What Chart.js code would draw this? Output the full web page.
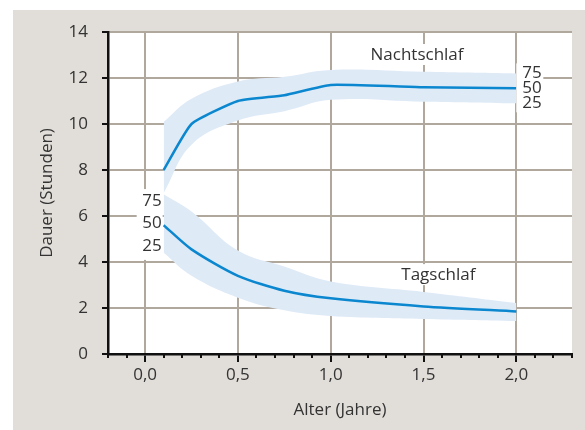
<!DOCTYPE html>
<html>
<head>
<meta charset="utf-8">
<script src="https://cdn.jsdelivr.net/npm/chart.js@4.4.0/dist/chart.umd.min.js"></script>
<style>
  html, body { margin: 0; padding: 0; background: #fff; }
</style>
</head>
<body>
<canvas id="sleep-chart" width="585" height="430"></canvas>
<script>
// Alter (Jahre)
var ages = [0.1, 0.25, 0.5, 0.75, 1.0, 1.5, 2.0];

// Nachtschlaf (Stunden) - Perzentilen
var night75 = [10.1, 11.1, 11.85, 12.05, 12.35, 12.27, 12.2];
var night50 = [8.0, 10.0, 11.0, 11.25, 11.7, 11.6, 11.55];
var night25 = [7.0, 9.1, 10.15, 10.55, 11.05, 10.97, 10.9];

// Tagschlaf (Stunden) - Perzentilen
var day75 = [6.95, 6.2, 4.5, 3.8, 3.15, 2.7, 2.22];
var day50 = [5.6, 4.55, 3.4, 2.75, 2.42, 2.07, 1.85];
var day25 = [4.4, 3.4, 2.45, 1.9, 1.65, 1.52, 1.43];

// tick labels
var xTickValues = [0, 0.5, 1.0, 1.5, 2.0];
var xTickLabels = ['0,0', '0,5', '1,0', '1,5', '2,0'];
var percentileLabels = ['75', '50', '25'];

var lineBlue = '#0b87cf';
var bandBlue = '#dfeaf7';
var gridTan = '#b0a89d';
var textColor = '#333333';
var fontFamily = "'Open Sans', sans-serif";

function pts(ys) {
    return ages.map(function (a, i) { return { x: a, y: ys[i] }; });
}

function isHalf(v) {
    return Math.abs(v * 2 - Math.round(v * 2)) < 1e-6;
}

Chart.defaults.font.family = fontFamily;
Chart.defaults.color = textColor;

// background + plot area
var backgroundPlugin = {
    id: 'background',
    beforeDraw: function (chart) {
        var c = chart.ctx, a = chart.chartArea;
        c.save();
        c.fillStyle = '#ffffff';
        c.fillRect(0, 0, chart.width, chart.height);
        c.fillStyle = '#e1ddd8';
        c.fillRect(13, 10, chart.width - 13, chart.height - 10);
        c.fillStyle = '#ffffff';
        c.fillRect(a.left, a.top, a.right - a.left, a.bottom - a.top);
        c.restore();
    }
};

// minor ticks on x axis and text labels in the plot
var labelsPlugin = {
    id: 'sleepLabels',
    afterDraw: function (chart) {
        var c = chart.ctx;
        var xs = chart.scales.x, ys = chart.scales.y;
        c.save();

        // minor ticks every 0.1
        c.strokeStyle = '#111';
        c.lineWidth = 2;
        for (var k = -2; k <= 23; k++) {
            var v = k / 10;
            if (isHalf(v)) continue;
            var px = Math.round(xs.getPixelForValue(v));
            c.beginPath();
            c.moveTo(px, ys.bottom);
            c.lineTo(px, ys.bottom + 4);
            c.stroke();
        }

        c.font = '17px ' + fontFamily;
        c.textBaseline = 'middle';

        // Nachtschlaf / Tagschlaf
        function title(text, xv, yv) {
            var x = xs.getPixelForValue(xv), y = ys.getPixelForValue(yv);
            var w = c.measureText(text).width;
            c.fillStyle = '#fff';
            c.fillRect(x - w / 2 - 3, y - 11, w + 6, 21);
            c.fillStyle = textColor;
            c.textAlign = 'center';
            c.fillText(text, x, y);
        }
        title('Nachtschlaf', 1.465, 13.0);
        title('Tagschlaf', 1.58, 3.43);

        // percentiles right of Nachtschlaf
        var last = ages.length - 1;
        var rx = xs.getPixelForValue(ages[last]);
        var rys = [night75[last], night50[last], night25[last]].map(function (v) { return ys.getPixelForValue(v); });
        c.fillStyle = '#fff';
        c.fillRect(rx, rys[0] - 10, 27, rys[2] - rys[0] + 19);
        c.fillStyle = textColor;
        c.textAlign = 'left';
        percentileLabels.forEach(function (t, i) { c.fillText(t, rx + 6, rys[i]); });

        // percentiles left of Tagschlaf
        var lx = xs.getPixelForValue(ages[0]);
        var lys = [6.65, 5.7, 4.7].map(function (v) { return ys.getPixelForValue(v); });
        c.fillStyle = '#fff';
        c.fillRect(lx - 27, lys[0] - 12, 26, lys[2] - lys[0] + 26);
        c.fillStyle = textColor;
        c.textAlign = 'right';
        percentileLabels.forEach(function (t, i) { c.fillText(t, lx - 2, lys[i]); });

        c.restore();
    }
};

var ctx = document.getElementById('sleep-chart');

var chartData = {
    datasets: [
        { label: 'Nachtschlaf 50', data: pts(night50), borderColor: lineBlue, borderWidth: 2.5, tension: 0.15, fill: false, pointRadius: 0, order: 1 },
        { label: 'Tagschlaf 50', data: pts(day50), borderColor: lineBlue, borderWidth: 2.5, tension: 0.25, fill: false, pointRadius: 0, order: 1 },
        { label: 'Nachtschlaf 75', data: pts(night75), borderWidth: 0, borderColor: bandBlue, backgroundColor: bandBlue, tension: 0.4, fill: '+1', pointRadius: 0, order: 2 },
        { label: 'Nachtschlaf 25', data: pts(night25), borderWidth: 0, borderColor: bandBlue, tension: 0.4, fill: false, pointRadius: 0, order: 2 },
        { label: 'Tagschlaf 75', data: pts(day75), borderWidth: 0, borderColor: bandBlue, backgroundColor: bandBlue, tension: 0.4, fill: '+1', pointRadius: 0, order: 2 },
        { label: 'Tagschlaf 25', data: pts(day25), borderWidth: 0, borderColor: bandBlue, tension: 0.4, fill: false, pointRadius: 0, order: 2 }
    ]
};

var chartOptions = {
    responsive: false,
    animation: false,
    layout: { padding: { left: 13, right: 13, top: 32, bottom: 0 } },
    plugins: {
        legend: { display: false },
        tooltip: { enabled: false }
    },
    scales: {
        x: {
            type: 'linear',
            min: -0.2,
            max: 2.3,
            afterFit: function (scale) { scale.height = 76; },
            border: { color: '#111', width: 2.5 },
            grid: {
                lineWidth: 2,
                color: function (c) { return isHalf(c.tick.value) && c.tick.value >= 0 && c.tick.value <= 2 ? gridTan : 'rgba(0,0,0,0)'; },
                tickColor: function (c) { return isHalf(c.tick.value) && c.tick.value >= 0 && c.tick.value <= 2 ? '#111' : 'rgba(0,0,0,0)'; },
                tickLength: 8,
                tickWidth: 2
            },
            ticks: {
                stepSize: 0.1,
                autoSkip: false,
                maxRotation: 0,
                padding: 3,
                font: { size: 17 },
                color: textColor,
                callback: function (v) {
                    for (var i = 0; i < xTickValues.length; i++) {
                        if (Math.abs(v - xTickValues[i]) < 1e-6) return xTickLabels[i];
                    }
                    return '';
                }
            },
            title: { display: true, text: 'Alter (Jahre)', font: { size: 17 }, color: textColor, padding: { top: 0, bottom: 10 } }
        },
        y: {
            min: 0,
            max: 14,
            afterFit: function (scale) { scale.width = 95; },
            border: { color: '#111', width: 2.5 },
            grid: {
                lineWidth: 2,
                color: gridTan,
                tickColor: '#111',
                tickLength: 6,
                tickWidth: 2
            },
            ticks: {
                stepSize: 2,
                padding: 14,
                font: { size: 17 },
                color: textColor
            },
            title: { display: true, text: 'Dauer (Stunden)', font: { size: 17 }, color: textColor, padding: { top: 24, bottom: 0 } }
        }
    }
};

var config = {
    type: 'line',
    data: chartData,
    options: chartOptions,
    plugins: [backgroundPlugin, labelsPlugin]
};

var sleepChart = new Chart(ctx, config);
</script>
</body>
</html>
